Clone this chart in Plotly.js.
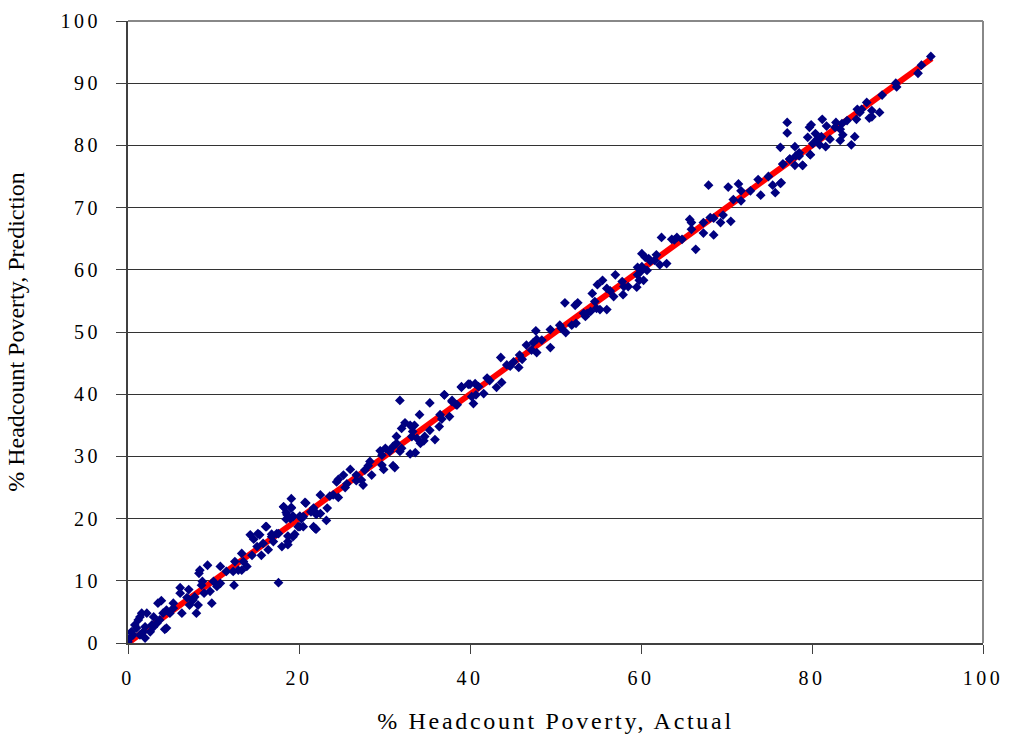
<!DOCTYPE html>
<html>
<head>
<meta charset="utf-8">
<script src="https://cdn.plot.ly/plotly-3.0.1.min.js"></script>
<style>
html,body{margin:0;padding:0;background:#fff;}
#chart{width:1011px;height:742px;}
#chart .xtick text, #chart .ytick text {letter-spacing: 3.5px;}
#chart text.xtitle {letter-spacing: 2.7px;}
</style>
</head>
<body>
<div id="chart"></div>
<script>
// Scatter points: [actual, prediction]
const pointsLow = [
[18.2,21.9],[19.1,21.8],[20.7,22.6],[18.6,20.6],[19.3,20.4],[20.3,20.0],[22.1,20.8],[21.7,18.7],[20.1,18.7],[19.3,17.1],
[18.7,16.3],[18.7,15.8],[18.0,15.5],[16.2,18.7],[15.2,17.6],[14.3,17.4],[14.7,16.7],[16.8,17.1],[17.4,17.6],[17.0,16.3],
[15.8,16.0],[15.1,15.5],[16.4,15.0],[15.6,14.1],[14.5,14.1],[13.3,14.4],[12.5,13.1],[13.5,13.1],[12.9,11.7],[12.3,11.5],
[13.3,11.7],[13.9,12.3],[11.5,11.5],[12.4,9.3],[9.3,12.5],[8.4,11.7],[8.3,11.2],[10.8,12.3],[10.0,9.9],[10.4,9.1],
[10.8,9.6],[8.7,9.9],[8.6,9.3],[9.6,8.3],[8.9,8.0],[17.6,9.7],[6.1,8.9],[7.1,8.6],[6.1,8.0],[6.9,7.3],
[7.8,7.4],[7.6,6.9],[8.2,6.1],[9.8,6.4],[8.0,4.8],[6.3,4.8],[7.2,6.1],[3.9,6.8],[3.5,6.4],[5.3,6.4],
[4.5,5.3],[5.3,5.6],[4.1,4.8],[4.9,4.8],[1.6,4.8],[2.2,4.8],[1.4,4.2],[3.7,3.7],[3.0,4.2],[4.5,2.4],
[4.3,2.2],[0.8,2.9],[1.0,2.4],[1.2,3.7],[2.0,2.6],[2.8,2.9],[1.8,1.8],[0.6,1.3],[0.2,0.8],[1.4,1.3],
[2.0,0.8],[3.0,2.6],[0.0,0.2],[2.6,1.8],[3.4,3.2],[0.4,1.8],[21.9,18.4],[19.0,20.0]
];
const pointsMid = [
[31.8,39.0],[35.3,38.6],[37.0,39.9],[39.0,41.1],[39.8,41.6],[37.9,39.0],[38.5,38.3],[34.1,36.7],[36.5,36.7],[36.7,36.0],
[37.6,36.4],[32.4,35.4],[32.0,34.5],[33.0,35.0],[33.5,35.0],[33.3,34.0],[35.3,34.2],[36.4,34.8],[33.2,33.2],[33.8,32.9],
[34.7,33.2],[34.6,32.5],[35.9,32.7],[31.4,33.2],[31.4,32.1],[29.5,30.9],[30.1,31.3],[29.7,30.2],[30.6,30.8],[32.0,31.3],
[31.8,30.8],[33.0,30.4],[33.6,30.6],[31.0,31.6],[28.3,29.2],[28.1,28.5],[29.7,28.6],[29.9,27.9],[31.0,28.5],[31.2,28.2],
[26.0,27.9],[27.7,27.8],[28.5,27.0],[25.2,27.0],[24.6,26.3],[25.6,25.6],[24.4,25.9],[25.4,25.0],[26.7,27.0],[26.7,26.1],
[27.5,25.4],[27.3,26.2],[22.5,23.8],[23.6,23.6],[24.0,23.8],[24.6,23.4],[19.1,23.2],[18.2,21.9],[19.1,21.7],[18.5,21.0],
[18.5,19.9],[19.3,20.3],[20.8,22.5],[21.7,21.7],[21.4,21.1],[22.0,20.7],[22.5,20.8],[23.3,21.7],[23.2,19.7],[20.1,20.4],
[19.9,18.7],[20.5,18.7],[20.5,20.3],[22.0,18.3],[16.1,18.7],[15.4,17.4],[16.8,17.5],[17.6,17.6],[18.7,17.2],[19.5,17.5],
[34.2,32.1]
];
const pointsHigh = [
[37.0,39.9],[37.9,38.8],[38.4,38.3],[39.0,41.2],[40.0,41.6],[40.6,41.7],[41.0,41.2],[40.4,38.5],[40.2,39.6],[40.7,39.9],
[41.6,40.1],[42.0,42.6],[42.3,42.2],[43.1,41.1],[43.7,41.9],[43.6,45.9],[44.3,44.7],[44.7,44.5],[45.1,45.2],[45.7,44.3],
[45.8,46.3],[46.1,45.6],[46.6,47.9],[47.2,47.1],[47.8,46.7],[47.4,48.3],[47.7,50.2],[47.8,48.8],[48.4,48.7],[49.4,47.5],
[49.4,50.4],[50.5,51.1],[50.7,50.6],[51.2,49.9],[51.1,54.7],[52.3,54.3],[52.6,54.7],[51.9,51.1],[52.4,51.4],[53.5,52.5],
[53.7,53.0],[54.1,53.3],[54.6,54.9],[54.8,53.8],[55.2,53.6],[56.0,53.6],[54.3,56.2],[54.9,57.6],[55.5,58.3],[56.0,57.0],
[56.4,56.6],[56.8,55.7],[57.0,59.2],[57.8,58.1],[58.0,57.3],[57.9,56.0],[58.5,57.3],[59.5,57.2],[60.3,58.3],[60.1,60.5],
[60.7,59.9],[61.1,61.4],[59.6,59.2],[53.3,53.0],
[59.6,60.4],[60.1,59.9],[59.8,58.3],[60.1,62.6],[60.5,62.0],[60.9,61.8],[61.8,62.4],[61.6,61.5],[62.2,60.8],[63.0,61.0],
[62.4,65.2],[63.6,64.9],[64.2,65.2],[64.8,64.9],[63.9,64.8],[65.9,66.5],[65.7,68.1],[65.9,67.6],[66.4,63.3],[67.3,65.9],
[67.3,67.6],[68.1,68.4],[68.5,68.3],[68.5,65.6],[69.3,67.6],[69.6,68.8],[70.5,67.8],[67.9,73.6],[70.2,73.3],[70.8,71.3],
[71.4,73.8],[71.7,72.7],[71.7,71.1],[72.8,72.7],[73.7,74.5],[74.0,72.0],[74.9,75.0],[75.4,73.6],[75.7,72.4],[76.4,74.0],
[76.6,77.0],[77.4,77.8],[78.1,78.3],[78.9,76.8],[79.8,78.5],[78.5,78.8]
];
const pointsTop = [
[93.9,94.3],[92.8,92.9],[92.4,91.6],[89.8,90.0],[89.9,89.4],[88.2,88.1],[86.4,86.9],[85.3,85.8],[85.8,85.8],[85.6,85.3],
[87.0,85.6],[87.9,85.3],[86.7,84.4],[87.0,84.6],[85.2,84.2],[84.1,84.0],[83.5,83.5],[82.8,83.7],[83.3,82.6],[83.6,81.7],
[85.0,81.4],[84.6,80.1],[83.3,80.8],[82.1,81.0],[82.7,82.9],[81.7,83.1],[81.2,84.2],[79.9,83.3],[79.7,82.9],[80.4,81.9],
[79.5,81.3],[81.1,81.4],[80.6,81.0],[80.9,80.1],[81.6,79.8],[80.1,80.3],[79.8,78.5],[78.0,79.8],[77.1,83.7],[77.1,82.0],
[78.5,78.3],[77.4,77.8],[76.6,77.0],[78.0,76.8],[78.9,76.8],[76.3,73.9],[76.3,79.7]
];
const allPoints = pointsLow.concat(pointsMid, pointsHigh, pointsTop);
const actual = allPoints.map(p => p[0]);
const prediction = allPoints.map(p => p[1]);

// Reference line (prediction = actual)
const lineX = [0, 94];
const lineY = [0, 94];

const xTicks = [0, 20, 40, 60, 80, 100];
const yTicks = [0, 10, 20, 30, 40, 50, 60, 70, 80, 90, 100];

const serif = "Liberation Serif, Times New Roman, serif";

const traces = [
  {x: lineX, y: lineY, mode: 'lines', type: 'scatter', line: {color: '#ff0000', width: 6}, hoverinfo: 'skip'},
  {x: actual, y: prediction, mode: 'markers', type: 'scatter',
   marker: {symbol: 'diamond', size: 7.5, color: '#000080', line: {width: 0}}}
];

const layout = {
  width: 1011, height: 742,
  margin: {l: 128, r: 28, t: 21, b: 99},
  paper_bgcolor: '#ffffff', plot_bgcolor: '#ffffff',
  showlegend: false,
  font: {family: serif, size: 20, color: '#000'},
  xaxis: {
    range: [0, 100], tickvals: xTicks, ticktext: xTicks.map(String),
    showgrid: false, zeroline: false,
    showline: true, linecolor: '#404040', linewidth: 2,
    ticks: 'outside', ticklen: 9, tickcolor: '#404040', tickwidth: 1,
    ticklabelstandoff: 7,
    tickfont: {family: serif, size: 20, color: '#000'},
    title: {text: '% Headcount Poverty, Actual', font: {family: serif, size: 24, color: '#000'}, standoff: 24}
  },
  yaxis: {
    range: [0, 100], tickvals: yTicks, ticktext: yTicks.map(String),
    showgrid: true, gridcolor: '#333333', gridwidth: 1, zeroline: false,
    showline: true, linecolor: '#404040', linewidth: 2,
    ticks: 'outside', ticklen: 10, tickcolor: '#404040', tickwidth: 1,
    ticklabelstandoff: 11,
    tickfont: {family: serif, size: 20, color: '#000'},
    title: {text: '% Headcount Poverty, Prediction', font: {family: serif, size: 24, color: '#000'}, standoff: 40}
  },
  shapes: [
    {type: 'line', xref: 'paper', yref: 'paper', x0: 0, x1: 1, y0: 1, y1: 1, line: {color: '#888888', width: 2}},
    {type: 'line', xref: 'paper', yref: 'paper', x0: 1, x1: 1, y0: 0, y1: 1, line: {color: '#888888', width: 2}}
  ]
};

Plotly.newPlot('chart', traces, layout, {staticPlot: true, displayModeBar: false});
</script>
</body>
</html>
